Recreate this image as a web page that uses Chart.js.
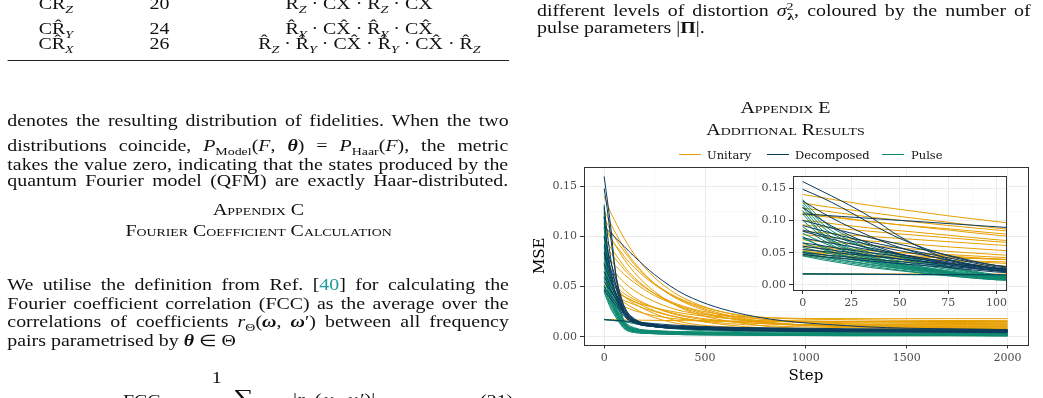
<!DOCTYPE html>
<html>
<head>
<meta charset="utf-8">
<script src="https://cdn.jsdelivr.net/npm/chart.js@4.4.1/dist/chart.umd.min.js"></script>
<style>
  html, body { margin: 0; padding: 0; background: #fff; }
  body { width: 1043px; height: 398px; overflow: hidden; position: relative; }
  #page { position: absolute; left: 0; top: 0; width: 840px; height: 398px; transform: scaleX(1.26); transform-origin: 0 0;
          font-family: "Liberation Serif", "Times New Roman", serif; font-size: 15.8px; color: #111; }
  .ln { position: absolute; white-space: nowrap; line-height: 15px; }
  .ctr { text-align: center; width: 400px; }
  .cell { text-align: center; width: 160px; }
  .sc { font-variant: small-caps; }
  sub, sup { font-size: 70%; line-height: 0; }
  .ref { color: #1f9a9a; }
  .rule { position: absolute; left: 5.8px; width: 397.8px; height: 1.4px; background: #222; }
  canvas { position: absolute; }
  .leg { position: absolute; font-family: "DejaVu Serif", serif; font-size: 11.5px; color: #111; line-height: 14px; }
  .legline { position: absolute; height: 1.2px; width: 22px; }
</style>
</head>
<body>
<div id="page">
  <div class="ln cell" style="left:-35.6px;top:-4.5px">CR<sub><i>Z</i></sub></div>
  <div class="ln cell" style="left:46.6px;top:-4.5px">20</div>
  <div class="ln cell" style="left:204.9px;top:-4.5px">R<sub><i>Z</i></sub> · CX · R<sub><i>Z</i></sub> · CX</div>
  <div class="ln cell" style="left:-35.6px;top:20.9px">CR&#770;<sub><i>Y</i></sub></div>
  <div class="ln cell" style="left:46.6px;top:20.9px">24</div>
  <div class="ln cell" style="left:204.9px;top:20.9px">R&#770;<sub><i>Y</i></sub> · CX&#770; · R&#770;<sub><i>Y</i></sub> · CX&#770;</div>
  <div class="ln cell" style="left:-35.6px;top:35.5px">CR&#770;<sub><i>X</i></sub></div>
  <div class="ln cell" style="left:46.6px;top:35.5px">26</div>
  <div class="ln cell" style="left:204.9px;top:35.5px">R&#770;<sub><i>Z</i></sub> · R&#770;<sub><i>Y</i></sub> · CX&#770; · R&#770;<sub><i>Y</i></sub> · CX&#770; · R&#770;<sub><i>Z</i></sub></div>
  <div class="rule" style="top:59.5px"></div>

  <div class="ln j" data-w="397.8" style="left:5.8px;top:112.7px">denotes the resulting distribution of fidelities. When the two</div>
  <div class="ln j" data-w="397.8" style="left:5.8px;top:138.2px">distributions coincide, <i>P</i><sub>Model</sub>(<i>F</i>, <b><i>θ</i></b>) = <i>P</i><sub>Haar</sub>(<i>F</i>), the metric</div>
  <div class="ln j" data-w="397.8" style="left:5.8px;top:156.7px">takes the value zero, indicating that the states produced by the</div>
  <div class="ln j" data-w="397.8" style="left:5.8px;top:173.2px">quantum Fourier model (QFM) are exactly Haar-distributed.</div>
  <div class="ln ctr sc" style="left:5.2px;top:202.2px">Appendix C</div>
  <div class="ln ctr sc" style="left:5.2px;top:222.7px">Fourier Coefficient Calculation</div>
  <div class="ln j" data-w="397.8" style="left:5.8px;top:277.2px">We utilise the definition from Ref. [<span class="ref">40</span>] for calculating the</div>
  <div class="ln j" data-w="397.8" style="left:5.8px;top:295.7px">Fourier coefficient correlation (FCC) as the average over the</div>
  <div class="ln j" data-w="397.8" style="left:5.8px;top:313.7px">correlations of coefficients <i>r</i><sub>Θ</sub>(<b><i>ω</i></b>, <b><i>ω</i></b>′) between all frequency</div>
  <div class="ln" style="left:5.8px;top:332.7px">pairs parametrised by <b><i>θ</i></b> ∈ Θ</div>
  <div class="ln" style="left:168px;top:369.7px">1</div>
  <div class="ln" style="left:97.6px;top:392.7px">FCC := </div>
  <div class="ln" style="left:185px;top:389.7px;font-size:23px">∑</div>
  <div class="ln" style="left:232.5px;top:391.7px">|<i>r</i><sub>Θ</sub>(<b><i>ω</i></b>, <b><i>ω</i></b>′)|</div>
  <div class="ln" style="left:381px;top:392.7px">(21)</div>

  <div class="ln j" data-w="392.1" style="left:426.2px;top:2.9px">different levels of distortion <i>σ</i><sup>2</sup><sub style="margin-left:-5px"><b>λ</b></sub>, coloured by the number of</div>
  <div class="ln" style="left:426.2px;top:19.7px">pulse parameters |<b>Π</b>|.</div>
  <div class="ln ctr sc" style="left:423.4px;top:99.7px">Appendix E</div>
  <div class="ln ctr sc" style="left:423.4px;top:121.7px">Additional Results</div>
</div>

<div class="legline" style="left:679px;top:153.5px;background:#E69F00"></div>
<div class="leg" style="left:707px;top:148px">Unitary</div>
<div class="legline" style="left:767px;top:153.5px;background:#0B3B5C"></div>
<div class="leg" style="left:795px;top:148px">Decomposed</div>
<div class="legline" style="left:882px;top:153.5px;background:#0E8A70"></div>
<div class="leg" style="left:911px;top:148px">Pulse</div>

<canvas id="mainChart" width="523" height="258" style="left:520px;top:140px;width:523px;height:258px"></canvas>
<canvas id="insetChart" width="257" height="133" style="left:758px;top:175px;width:257px;height:133px"></canvas>

<script>
const steps = [0, 10, 20, 35, 50, 75, 100, 150, 250, 400, 700, 1200, 2000];

const unitaryRuns = [
    [.140, .135, .130, .123, .117, .107, .098, .082, .059, .038, .020, .013, .012],
    [.127, .122, .118, .112, .106, .097, .088, .074, .053, .034, .017, .011, .010],
    [.119, .115, .111, .105, .100, .092, .085, .072, .053, .036, .021, .017, .016],
    [.109, .106, .103, .098, .093, .087, .080, .069, .052, .035, .018, .010, .008],
    [.112, .108, .104, .098, .093, .085, .077, .064, .045, .027, .013, .007, .006],
    [.093, .090, .087, .083, .079, .073, .067, .057, .043, .030, .019, .015, .014],
    [.083, .081, .078, .075, .072, .067, .062, .054, .041, .029, .016, .010, .009],
    [.078, .075, .072, .068, .065, .059, .054, .046, .035, .025, .020, .018, .018],
    [.059, .057, .055, .053, .050, .047, .043, .037, .029, .021, .014, .011, .011],
    [.054, .052, .051, .049, .046, .043, .040, .035, .026, .018, .010, .006, .005],
    [.050, .049, .048, .046, .044, .042, .040, .035, .029, .023, .017, .014, .013],
    [.047, .046, .045, .043, .041, .038, .036, .032, .025, .018, .012, .009, .008],
    [.062, .059, .057, .053, .050, .045, .040, .033, .023, .014, .009, .007, .007],
    [.017, .017, .017, .017, .017, .017, .0168, .0166, .0163, .016, .0157, .0154, .015],
    [.100, .097, .093, .088, .084, .077, .070, .059, .043, .028, .016, .011, .010],
    [.070, .067, .065, .061, .057, .052, .047, .039, .029, .020, .014, .012, .012],
    [.052, .050, .048, .045, .042, .038, .034, .028, .019, .012, .007, .006, .006],
    [.045, .043, .041, .039, .037, .033, .030, .026, .021, .017, .015, .015, .015]
];

const decomposedRuns = [
    [.160, .145, .130, .105, .075, .040, .025, .015, .010, .008, .007, .006, .005],
    [.148, .135, .120, .095, .072, .045, .030, .016, .011, .009, .007, .0065, .006],
    [.110, .108, .106, .103, .100, .095, .090, .080, .062, .042, .022, .011, .007],
    [.100, .092, .084, .073, .063, .046, .030, .018, .012, .010, .009, .008, .007],
    [.092, .084, .076, .066, .057, .042, .028, .017, .012, .010, .008, .007, .006],
    [.085, .078, .071, .062, .053, .039, .026, .016, .011, .009, .008, .007, .006],
    [.083, .075, .067, .057, .048, .034, .022, .014, .010, .008, .006, .005, .004],
    [.073, .067, .062, .054, .047, .036, .025, .016, .012, .010, .008, .0065, .005],
    [.065, .061, .056, .050, .044, .034, .024, .015, .011, .009, .007, .006, .005],
    [.060, .056, .052, .046, .040, .031, .022, .014, .010, .008, .006, .005, .004],
    [.055, .052, .049, .045, .040, .033, .026, .017, .012, .010, .008, .007, .006],
    [.050, .047, .044, .040, .036, .029, .022, .015, .011, .009, .007, .006, .005],
    [.047, .044, .041, .037, .033, .027, .020, .014, .010, .008, .007, .006, .005],
    [.017, .017, .0168, .0166, .0164, .016, .0157, .015, .013, .011, .009, .007, .006],
    [.130, .112, .096, .075, .058, .038, .026, .016, .011, .009, .007, .006, .005],
    [.120, .100, .083, .063, .048, .032, .023, .015, .011, .009, .008, .007, .006]
];

const pulseRuns = [
    [.132, .100, .080, .060, .046, .028, .015, .008, .005, .004, .003, .002, .002],
    [.128, .095, .075, .056, .043, .027, .014, .007, .005, .0035, .003, .002, .0015],
    [.124, .090, .072, .055, .044, .029, .016, .009, .006, .005, .004, .003, .003],
    [.120, .085, .066, .050, .040, .026, .014, .008, .005, .004, .003, .0025, .002],
    [.115, .080, .062, .047, .037, .024, .013, .007, .005, .004, .003, .002, .002],
    [.110, .078, .060, .044, .034, .021, .011, .006, .004, .003, .0025, .002, .0015],
    [.100, .075, .058, .043, .034, .022, .013, .008, .006, .005, .004, .003, .003],
    [.090, .070, .055, .041, .032, .020, .011, .006, .004, .003, .002, .002, .001],
    [.080, .066, .054, .041, .032, .020, .012, .007, .005, .004, .003, .003, .002],
    [.072, .060, .050, .039, .031, .020, .012, .006, .004, .003, .0025, .002, .002],
    [.065, .055, .047, .037, .030, .019, .012, .007, .005, .004, .003, .003, .002],
    [.058, .051, .045, .036, .029, .019, .011, .006, .004, .003, .002, .002, .001],
    [.052, .047, .042, .034, .028, .018, .011, .006, .004, .003, .0025, .002, .0015],
    [.050, .044, .039, .032, .026, .017, .010, .005, .004, .003, .002, .0015, .001],
    [.048, .043, .038, .031, .025, .016, .009, .005, .003, .002, .0015, .001, .001],
    [.046, .041, .036, .029, .023, .015, .008, .004, .003, .002, .0015, .001, .001],
    [.045, .039, .034, .027, .022, .014, .008, .005, .003, .0025, .002, .0015, .001],
    [.017, .0168, .0166, .0163, .016, .0155, .015, .013, .010, .007, .005, .004, .003],
    [.0175, .017, .0168, .0165, .0162, .0158, .0153, .014, .011, .008, .006, .004, .003],
    [.075, .058, .046, .035, .027, .018, .010, .006, .004, .003, .002, .0015, .001]
];

const seriesNames = ['Unitary', 'Decomposed', 'Pulse'];
const seriesColors = ['#E69F00', '#0B3B5C', '#0E8A70'];

// major and minor breaks alternate, majors on even positions
const mainXTicks = [0, 250, 500, 750, 1000, 1250, 1500, 1750, 2000];
const insetXTicks = [0, 12.5, 25, 37.5, 50, 62.5, 75, 87.5, 100];
const yTicks = [0, 0.025, 0.05, 0.075, 0.1, 0.125, 0.15];


// squeeze or stretch word gaps so every full line fills the column like the typeset page
const justifyLines = () => {
    document.querySelectorAll('.j').forEach((el) => {
        const target = parseFloat(el.dataset.w);
        const gaps = (el.textContent.match(/ /g) || []).length;
        if (gaps > 0) {
            el.style.wordSpacing = ((target - el.offsetWidth) / gaps) + 'px';
        }
    });
}

const buildDatasets = () => {
    const order = [[decomposedRuns, 1], [pulseRuns, 2], [unitaryRuns, 0]];
    const sets = [];
    order.forEach(([runs, k]) => {
        runs.forEach((run) => {
            sets.push({
                label: seriesNames[k],
                data: run.map((v, i) => ({ x: steps[i], y: v })),
                borderColor: seriesColors[k],
                borderWidth: 1,
                pointRadius: 0,
                cubicInterpolationMode: 'monotone',
                fill: false
            });
        });
    });
    return sets;
}

const panelBorder = {
    id: 'panelBorder',
    beforeDraw(chart, args, opts) {
        if (opts.whiteBack) {
            const ctx = chart.ctx;
            ctx.save();
            ctx.fillStyle = '#fff';
            ctx.fillRect(0, 0, chart.chartArea.right + 1, chart.height);
            ctx.restore();
        }
    },
    afterDatasetsDraw(chart) {
        const { ctx, chartArea: a } = chart;
        ctx.save();
        ctx.strokeStyle = '#333';
        ctx.lineWidth = 1;
        ctx.strokeRect(Math.floor(a.left) + 0.5, Math.floor(a.top) + 0.5, Math.round(a.right - a.left), Math.round(a.bottom - a.top));
        ctx.restore();
    }
};

const makeAxis = (tickList, min, max, fmt, fit, title) => ({
    type: 'linear',
    min: min,
    max: max,
    afterBuildTicks: (s) => { s.ticks = tickList.map(v => ({ value: v })); },
    afterFit: fit,
    ticks: {
        autoSkip: false,
        maxRotation: 0,
        padding: 3,
        color: '#4D4D4D',
        font: { size: 11 },
        callback: (v, i) => i % 2 === 0 ? fmt(v) : ''
    },
    grid: {
        color: c => c.index % 2 === 0 ? '#EBEBEB' : '#F4F4F4',
        lineWidth: c => c.index % 2 === 0 ? 1 : 0.6,
        tickColor: c => c.index % 2 === 0 ? '#333' : 'rgba(0,0,0,0)',
        tickLength: 4
    },
    border: { display: false },
    title: title
});

const setupCharts = () => {
    Chart.defaults.font.family = '"DejaVu Serif", serif';

    new Chart(document.querySelector('#mainChart'), {
        type: 'line',
        data: { datasets: buildDatasets() },
        options: {
            responsive: false,
            devicePixelRatio: 1,
            animation: false,
            layout: { padding: { top: 27, right: 15.3, left: 0, bottom: 0 } },
            plugins: { legend: { display: false }, tooltip: { enabled: false }, panelBorder: { whiteBack: false } },
            scales: {
                x: makeAxis(mainXTicks, -100, 2100, v => String(v),
                    (s) => { s.height = 53.5; s.paddingLeft = 0; s.paddingRight = 0; },
                    { display: true, text: 'Step', color: '#000', font: { size: 15 }, padding: { top: 0, bottom: 13 } }),
                y: makeAxis(yTicks, -0.0078, 0.1695, v => v.toFixed(2),
                    (s) => { s.width = 64; s.paddingTop = 0; s.paddingBottom = 0; },
                    { display: true, text: 'MSE', color: '#000', font: { size: 15 }, padding: { top: 11, bottom: 0 } })
            }
        },
        plugins: [panelBorder]
    });

    new Chart(document.querySelector('#insetChart'), {
        type: 'line',
        data: { datasets: buildDatasets() },
        options: {
            responsive: false,
            devicePixelRatio: 1,
            animation: false,
            layout: { padding: { top: 1, right: 8.7, left: 0, bottom: 0 } },
            plugins: { legend: { display: false }, tooltip: { enabled: false }, panelBorder: { whiteBack: true } },
            scales: {
                x: makeAxis(insetXTicks, -5, 105, v => String(v),
                    (s) => { s.height = 18; s.paddingLeft = 0; s.paddingRight = 0; },
                    { display: false }),
                y: makeAxis(yTicks, -0.0078, 0.1686, v => v.toFixed(2),
                    (s) => { s.width = 35; s.paddingTop = 0; s.paddingBottom = 0; },
                    { display: false })
            }
        },
        plugins: [panelBorder]
    });
}


justifyLines();
setupCharts();
</script>
</body>
</html>
